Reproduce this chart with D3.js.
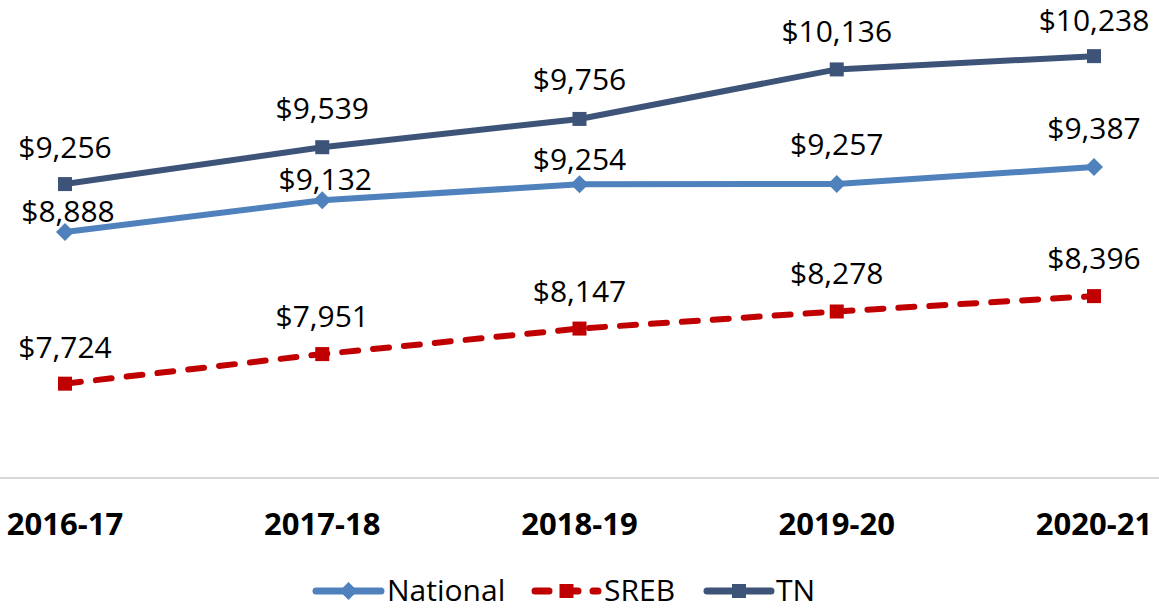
<!DOCTYPE html>
<html>
<head>
<meta charset="utf-8">
<script src="https://cdn.jsdelivr.net/npm/d3@7"></script>
<style>
  body { margin: 0; background: #fff; }
  svg { font-family: "Open Sans", sans-serif; }
</style>
</head>
<body>
<div id="chart"></div>
<script>
const years = ["2016-17", "2017-18", "2018-19", "2019-20", "2020-21"];
const national = [8888, 9132, 9254, 9257, 9387];
const sreb = [7724, 7951, 8147, 8278, 8396];
const tn = [9256, 9539, 9756, 10136, 10238];

const w = 1159;
const h = 613;

const svg = d3.select("#chart")
  .append("svg")
  .attr("width", w)
  .attr("height", h);

const x = d3.scalePoint().domain(years).range([65, 1094]);
const y = d3.scaleLinear().domain([7000, 10500]).range([478, 22]);

const fmt = d => "$" + d3.format(",")(d);

// series setup; labelUp = how far label baseline sits above the point
const series = [
  { name: "National", values: national, color: "#4f81bd", dash: null, marker: "diamond",
    labelUp: [10, 10, 14, 29, 28] },
  { name: "SREB", values: sreb, color: "#c00000", dash: "16,15", marker: "square",
    labelUp: [26, 27, 27, 27, 27] },
  { name: "TN", values: tn, color: "#3d5478", dash: null, marker: "square",
    labelUp: [26, 28, 29, 27, 25] }
];

// baseline
svg.append("line")
  .attr("x1", 0).attr("x2", w)
  .attr("y1", 478).attr("y2", 478)
  .attr("stroke", "#d9d9d9")
  .attr("stroke-width", 2);

// x axis labels
svg.append("g")
  .selectAll("text")
  .data(years)
  .enter()
  .append("text")
  .attr("x", d => x(d))
  .attr("y", 535)
  .attr("text-anchor", "middle")
  .style("font-size", "31px")
  .style("font-weight", "bold")
  .text(d => d);

const line = d3.line()
  .x((d, i) => x(years[i]))
  .y(d => y(d));

const drawMarker = (g, type, color, cx, cy) => {
  if (type === "diamond") {
    g.append("path")
      .attr("d", `M${cx},${cy - 9}L${cx + 9},${cy}L${cx},${cy + 9}L${cx - 9},${cy}Z`)
      .attr("fill", color);
  } else {
    g.append("rect")
      .attr("x", cx - 7).attr("y", cy - 7)
      .attr("width", 14).attr("height", 14)
      .attr("fill", color);
  }
};

series.forEach(s => {
  const g = svg.append("g");
  g.append("path")
    .datum(s.values)
    .attr("d", line)
    .attr("fill", "none")
    .attr("stroke", s.color)
    .attr("stroke-width", 6)
    .attr("stroke-linecap", "round")
    .attr("stroke-dasharray", s.dash);
  s.values.forEach((v, i) => drawMarker(g, s.marker, s.color, x(years[i]), y(v)));

  g.selectAll("text.lbl")
    .data(s.values)
    .enter()
    .append("text")
    .attr("class", "lbl")
    .attr("x", (d, i) => x(years[i]) + (s.name === "National" && i < 2 ? 3 : 0))
    .attr("y", (d, i) => y(d) - s.labelUp[i])
    .attr("text-anchor", "middle")
    .style("font-size", "30px")
    .attr("fill", "#000")
    .text(d => fmt(d));
});

// legend
const legend = svg.append("g").attr("id", "legend");
const legendItems = [
  { s: series[0], x1: 316, x2: 381, tx: 387 },
  { s: series[1], x1: 535, x2: 598, tx: 604 },
  { s: series[2], x1: 707, x2: 771, tx: 776 }
];
legendItems.forEach(it => {
  legend.append("line")
    .attr("x1", it.x1).attr("x2", it.x2)
    .attr("y1", 591).attr("y2", 591)
    .attr("stroke", it.s.color)
    .attr("stroke-width", 7)
    .attr("stroke-linecap", "round")
    .attr("stroke-dasharray", it.s.name === "SREB" ? "14,15" : null);
  drawMarker(legend, it.s.marker, it.s.color, (it.x1 + it.x2) / 2, 591);
  legend.append("text")
    .attr("x", it.tx)
    .attr("y", 601)
    .style("font-size", "30px")
    .text(it.s.name);
});
</script>
</body>
</html>
